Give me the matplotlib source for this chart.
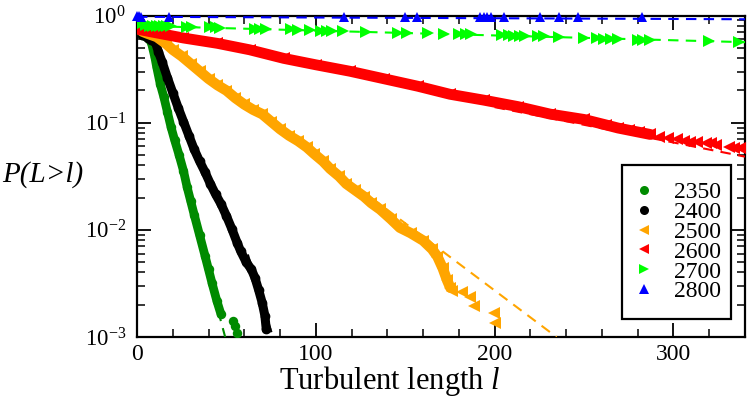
import numpy as np
import matplotlib
matplotlib.use('Agg')
import matplotlib.pyplot as plt
from matplotlib.lines import Line2D
from matplotlib.patches import Rectangle
from matplotlib.ticker import MultipleLocator, LogLocator, NullFormatter

plt.rcParams['font.family'] = ['Liberation Serif', 'DejaVu Serif']
plt.rcParams['mathtext.fontset'] = 'custom'
plt.rcParams['mathtext.rm'] = 'Liberation Serif'
plt.rcParams['mathtext.it'] = 'Liberation Serif:italic'

labels = ['2350', '2400', '2500', '2600', '2700', '2800']

# ---- data: survival probability, stored as log10 P ----
x_2350 = [0, 1, 3, 6, 8, 10, 11, 13, 15, 17, 19, 21, 23.5, 26, 28, 30, 32, 35, 38, 40, 42, 44.6, 47]
lp_2350 = [0, -0.12, -0.18, -0.21, -0.25, -0.39, -0.48, -0.64, -0.76, -0.9, -1.04, -1.16, -1.3,
           -1.45, -1.6, -1.73, -1.86, -2.05, -2.24, -2.37, -2.5, -2.66, -2.79]
x_2350_tail = [53.5, 55, 56]
lp_2350_tail = [-2.85, -2.9, -2.96]

x_2400 = [0, 1, 3, 6, 8, 10.3, 12, 14, 17, 20, 23, 26, 29, 32, 35, 38, 41, 44, 47, 50, 53, 56,
          58, 61, 64, 66, 68, 70, 71.5, 72.3]
lp_2400 = [0, -0.12, -0.18, -0.21, -0.23, -0.25, -0.34, -0.43, -0.58, -0.72, -0.86, -0.99, -1.12,
           -1.25, -1.36, -1.46, -1.57, -1.67, -1.76, -1.87, -1.99, -2.12, -2.2, -2.3, -2.37, -2.45,
           -2.56, -2.68, -2.8, -2.93]

x_2500 = [0, 1, 3, 6, 11, 16, 20, 25, 30, 35, 40, 45, 50, 55, 60, 65, 70, 75, 80, 85, 90, 95, 99,
          104, 108, 113, 117, 122, 127, 131, 136, 142, 147, 153, 160, 165, 168, 171, 173.4, 175.2]
lp_2500 = [0, -0.12, -0.15, -0.17, -0.2, -0.26, -0.32, -0.38, -0.45, -0.52, -0.59, -0.65, -0.7,
           -0.77, -0.83, -0.88, -0.92, -0.99, -1.06, -1.12, -1.17, -1.23, -1.29, -1.36, -1.43, -1.5,
           -1.57, -1.63, -1.69, -1.75, -1.81, -1.9, -1.98, -2.03, -2.1, -2.18, -2.25, -2.36, -2.47,
           -2.54]
x_2500_tail = [176, 181.8, 186, 188.3, 199.5, 200.4]
lp_2500_tail = [-2.57, -2.58, -2.63, -2.71, -2.78, -2.87]

x_2600 = [0, 1, 7, 26, 45, 63, 82, 100, 119, 138, 157, 175, 194, 213, 231, 250, 262, 269, 275,
          281, 287]
lp_2600 = [0, -0.13, -0.15, -0.21, -0.26, -0.32, -0.40, -0.46, -0.52, -0.59, -0.66, -0.735, -0.79,
           -0.85, -0.92, -0.97, -1.02, -1.05, -1.07, -1.09, -1.11]
x_2600_tail = [292, 297, 302, 306, 309, 313, 318, 321, 324, 331, 334, 337, 339]
lp_2600_tail = [-1.13, -1.14, -1.15, -1.17, -1.18, -1.18, -1.19, -1.19, -1.21, -1.23, -1.24,
                -1.24, -1.25]

x_2700 = [0, 2, 5, 7, 9, 11, 13, 15, 17, 19, 28, 31, 41, 44, 46.5, 66, 69, 72, 86, 90, 97, 103,
          106, 109, 115, 128, 146, 151, 163, 171.5, 180, 184, 187, 204, 208, 211, 214, 217, 224,
          227.5, 236, 250, 257, 261, 265, 269, 280, 283, 287, 320, 336.5]
lp_2700 = [0, -0.08, -0.09, -0.095, -0.095, -0.1, -0.1, -0.1, -0.1, -0.1, -0.105, -0.105, -0.11,
           -0.11, -0.115, -0.125, -0.125, -0.125, -0.13, -0.135, -0.135, -0.14, -0.14, -0.14,
           -0.145, -0.15, -0.16, -0.16, -0.165, -0.17, -0.17, -0.175, -0.175, -0.185, -0.185,
           -0.19, -0.19, -0.19, -0.195, -0.195, -0.2, -0.21, -0.21, -0.215, -0.215, -0.22, -0.225,
           -0.225, -0.23, -0.24, -0.25]

x_2800 = [0, 1, 2, 18, 115.5, 150, 156.6, 192, 194, 196, 198, 205, 225.6, 236, 246.5, 282.6]
lp_2800 = [0, -0.005, -0.01, -0.017, -0.017, -0.017, -0.017, -0.017, -0.017, -0.017, -0.017,
           -0.017, -0.017, -0.017, -0.017, -0.017]

# exponential fits (straight dashed lines on the log axis): end points
fit_x_2350 = [30, 49.3]
fit_lp_2350 = [-1.80, -3.0]
fit_x_2400 = [62, 76]
fit_lp_2400 = [-2.23, -3.0]
fit_x_2500 = [60, 234.6]
fit_lp_2500 = [-0.81, -3.0]
fit_x_2600 = [200, 340]
fit_lp_2600 = [-0.855, -1.317]
fit_x_2700 = [0, 340]
fit_lp_2700 = [-0.096, -0.249]
fit_x_2800 = [0, 340]
fit_lp_2800 = [-0.012, -0.035]

colors = ['#008b00', '#000000', '#ffa500', '#ff0000', '#00ff00', '#0000ff']
markers = ['o', 'o', '<', '<', '>', '^']

W, H = 747, 397
fig = plt.figure(figsize=(W / 100, H / 100), dpi=100)
L, R, T, B = 137, 745, 15.5, 337
ax = fig.add_axes([L / W, (H - B) / H, (R - L) / W, (B - T) / H])

def P(lp):
    return 10 ** np.asarray(lp, dtype=float)

dash = (0, (5, 3.5))
fits = [(fit_x_2350, fit_lp_2350), (fit_x_2400, fit_lp_2400), (fit_x_2500, fit_lp_2500),
        (fit_x_2600, fit_lp_2600), (fit_x_2700, fit_lp_2700), (fit_x_2800, fit_lp_2800)]

# dense bands (many overlapping symbols)
dense = [(x_2350, lp_2350, 0, 6.3, 6.8), (x_2400, lp_2400, 1, 6.5, 7.0),
         (x_2500, lp_2500, 2, 7.5, 9.0), (x_2600, lp_2600, 3, 7.8, 9.0)]
for xs, lps, i, lw, ms in dense:
    ax.plot(xs, P(lps), '-', color=colors[i], lw=lw, solid_capstyle='round',
            solid_joinstyle='round', zorder=3)
    ax.plot(xs, P(lps), ls='none', marker=markers[i], ms=ms, mew=0, color=colors[i], zorder=3)

tails = [(x_2350_tail, lp_2350_tail, 0, 6.8), (x_2500_tail, lp_2500_tail, 2, 9.0),
         (x_2600_tail, lp_2600_tail, 3, 9.0)]
for xs, lps, i, ms in tails:
    ax.plot(xs, P(lps), ls='none', marker=markers[i], ms=ms, mew=0, color=colors[i], zorder=3)

ax.plot(x_2700, P(lp_2700), ls='none', marker='>', ms=8.5, mew=0, color=colors[4], zorder=3)
ax.plot(x_2800, P(lp_2800), ls='none', marker='^', ms=7.5, mew=0, color=colors[5], zorder=3,
        clip_on=False)

for (fx, flp), c in zip(fits, colors):
    ax.plot(fx, P(flp), color=c, lw=1.5, ls=dash, zorder=4)

ax.set_yscale('log')
ax.set_xlim(0, 340)
ax.set_ylim(1e-3, 1)
ax.xaxis.set_major_locator(MultipleLocator(100))
ax.xaxis.set_minor_locator(MultipleLocator(20))
ax.set_yticks([1e-3, 1e-2, 1e-1, 1])
ax.set_yticklabels([r'$10^{-3}$', r'$10^{-2}$', r'$10^{-1}$', r'$10^{0}$'])
ax.yaxis.set_minor_locator(LogLocator(base=10, subs=np.arange(2, 10)))
ax.yaxis.set_minor_formatter(NullFormatter())

for s in ax.spines.values():
    s.set_linewidth(1.6)
ax.tick_params(which='both', direction='in', top=True, right=True)
ax.tick_params(which='major', length=10, width=1.3)
ax.tick_params(which='minor', length=5.5, width=1.1)
ax.tick_params(axis='x', pad=5, labelsize=17)
ax.tick_params(axis='y', pad=8, labelsize=16.5)

fig.text(390 / W, 1 - 381 / H, 'Turbulent length $l$', ha='center', va='center', fontsize=22)
fig.text(2 / W, 1 - 175 / H, 'P(L>l)', ha='left', va='center', fontsize=21, style='italic')

# legend frame drawn explicitly, entries placed inside it
bx0, bx1, by0, by1 = 622, 731, 165, 319
rect = Rectangle(((bx0 - L) / (R - L), (B - by1) / (B - T)), (bx1 - bx0) / (R - L),
                 (by1 - by0) / (B - T), transform=ax.transAxes, fill=True, facecolor='white',
                 edgecolor='black', lw=1.6, zorder=5)
ax.add_patch(rect)
handles = [Line2D([], [], ls='none', marker=m, color=c, ms=6.5, mew=0)
           for m, c in zip(markers, colors)]
leg = ax.legend(handles, labels, loc='center',
                bbox_to_anchor=(((bx0 + bx1) / 2 + 0.5 - L) / (R - L), (B - (by0 + by1) / 2) / (B - T)),
                borderaxespad=0, fontsize=17, frameon=False,
                handlelength=1.0, handletextpad=0.77, labelspacing=-0.07, borderpad=0.0)
leg.set_zorder(6)

fig.savefig('out.png', dpi=100)
